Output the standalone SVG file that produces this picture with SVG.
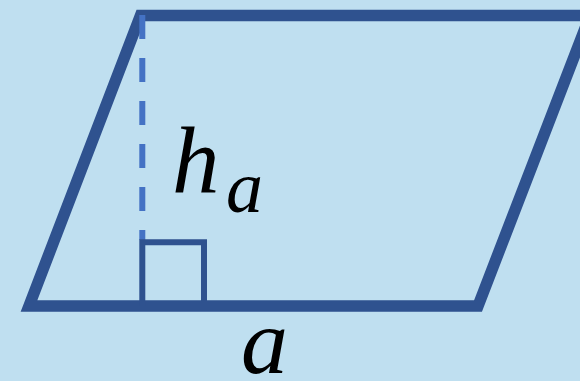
<svg xmlns="http://www.w3.org/2000/svg" width="580" height="381" viewBox="0 0 580 381">
<style>
.edge{fill:none;stroke:#2F528F;stroke-width:11.5;stroke-linejoin:miter}
.height{fill:none;stroke:#4472C4;stroke-width:6;stroke-dasharray:24 19}
.right{fill:none;stroke:#2F528F;stroke-width:6;stroke-linejoin:miter}
.lbl{font-family:"Liberation Serif",serif;font-style:italic;fill:#000}
</style>
<rect width="580" height="381" fill="#BFDFF0"/>
<g id="parallelogram">
<polygon class="edge" points="29,306 140.5,15.5 590,15.5 478,306"/>
</g>
<g id="connectors">
<line class="height" x1="142.3" y1="15" x2="142.3" y2="240"/>
<polyline class="right" points="142.3,306 142.3,242.3 204,242.3 204,306"/>
</g>
<g id="labels">
<text class="lbl" x="172" y="193" font-size="95">h</text>
<text class="lbl" x="226" y="212" font-size="74">a</text>
<text class="lbl" x="241" y="373" font-size="94">a</text>
</g>
</svg>
